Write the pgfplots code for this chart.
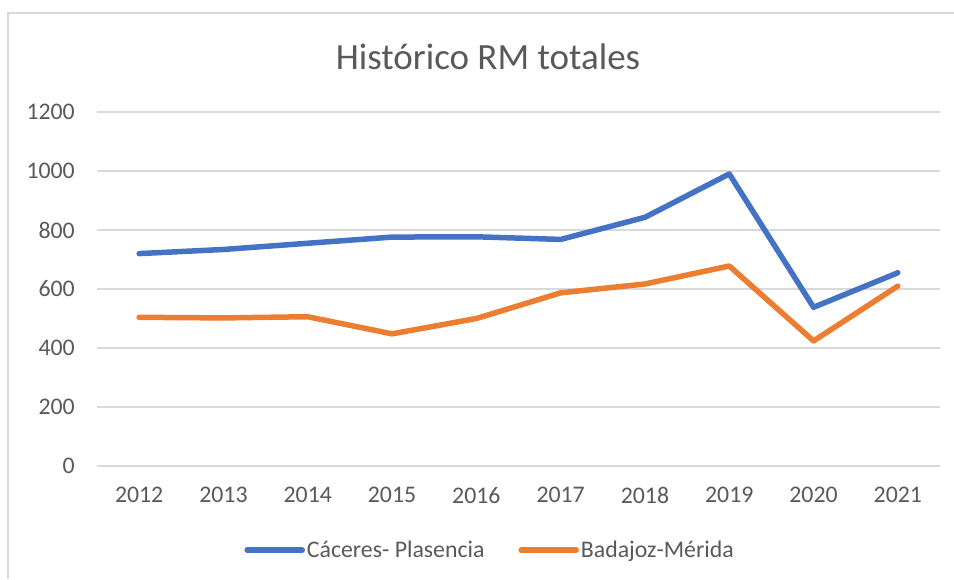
\documentclass[border=0pt]{standalone}
\usepackage{fontspec}
\setmainfont{Carlito}
\usepackage{pgfplots}
\pgfplotsset{compat=1.18}
\definecolor{txtgray}{HTML}{595959}
\definecolor{gridgray}{HTML}{D9D9D9}
\definecolor{exblue}{HTML}{4472C4}
\definecolor{exorange}{HTML}{ED7D31}
\begin{document}
\begin{tikzpicture}
\useasboundingbox (0,0) rectangle (954pt,579pt);
\draw[gridgray, line width=1.5pt] (8pt,0pt) -- (8pt,566pt) -- (955pt,566pt);
\begin{axis}[
  at={(97pt,113pt)}, anchor=south west,
  scale only axis, width=843pt, height=354pt,
  xmin=2011.5, xmax=2021.5, ymin=0, ymax=1200,
  xtick={2012,2013,...,2021}, ytick={0,200,...,1200},
  /pgf/number format/assume math mode=true,
  /pgf/number format/set thousands separator={},
  ymajorgrids, grid style={gridgray, line width=1.5pt},
  axis line style={draw=none}, major tick length=0pt,
  tick label style={font=\fontsize{23.8}{28}\selectfont, text=txtgray},
  yticklabel style={inner sep=0pt, anchor=east, xshift=-22pt},
  xticklabel style={inner sep=0pt, anchor=north, yshift=-21pt},
  legend columns=2,
  legend style={at={(0.4663,-0.2373)}, anchor=center, draw=none, fill=none,
    font=\fontsize{23.8}{28}\selectfont, text=txtgray,
    /tikz/every even column/.append style={column sep=32pt}},
  legend image code/.code={\draw[#1] (0pt,0pt) -- (55pt,0pt);},
  every axis plot/.append style={line width=5.5pt, line cap=round, line join=round},
]
\addplot[exblue] coordinates {(2012,720) (2013,734) (2014,755) (2015,776) (2016,777) (2017,768) (2018,843) (2019,990) (2020,538) (2021,655)};
\addlegendentry{Cáceres- Plasencia}
\addplot[exorange] coordinates {(2012,504) (2013,502) (2014,506) (2015,448) (2016,500) (2017,587) (2018,617) (2019,678) (2020,424) (2021,610)};
\addlegendentry{Badajoz-Mérida}
\end{axis}
\node[text=txtgray, font=\fontsize{37}{43}\selectfont] at (488pt,522pt) {Histórico RM totales};
\end{tikzpicture}
\end{document}
